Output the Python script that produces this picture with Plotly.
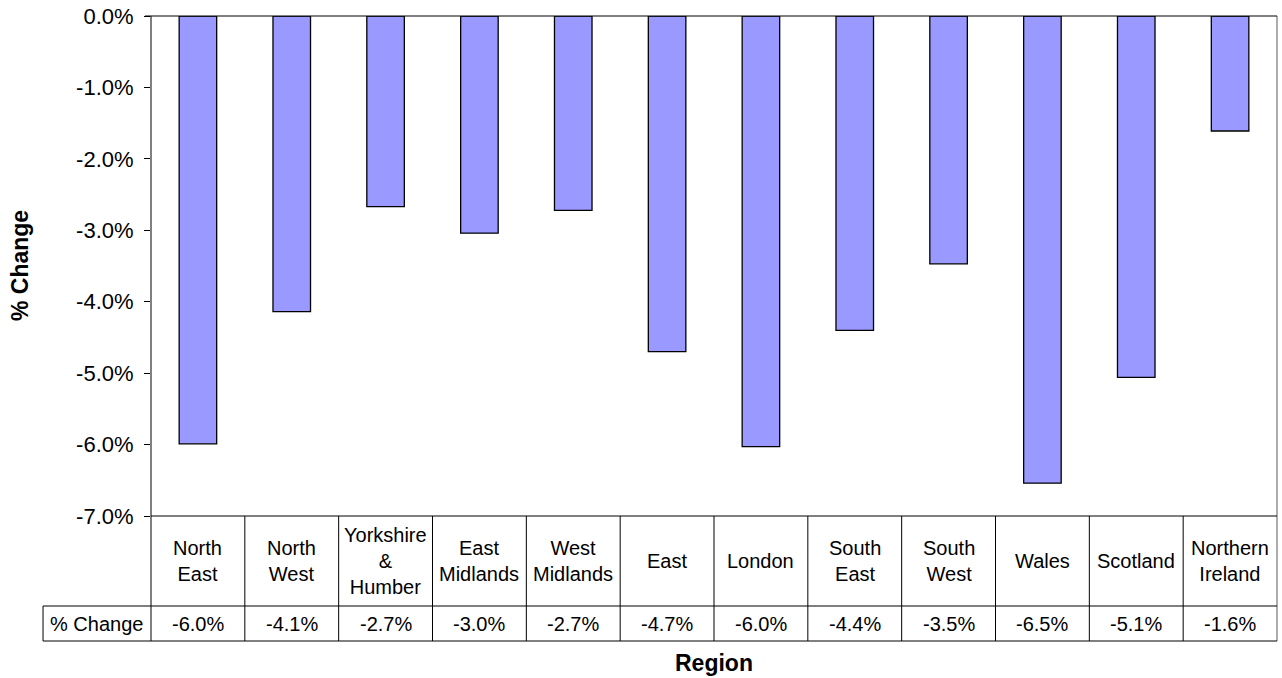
import plotly.graph_objects as go

regions = ["North East", "North West", "Yorkshire & Humber", "East Midlands", "West Midlands",
           "East", "London", "South East", "South West", "Wales", "Scotland", "Northern Ireland"]
region_labels = ["North<br>East", "North<br>West", "Yorkshire<br>&<br>Humber", "East<br>Midlands",
                 "West<br>Midlands", "East", "London", "South<br>East", "South<br>West", "Wales",
                 "Scotland", "Northern<br>Ireland"]
pct_change = [-5.99, -4.14, -2.67, -3.04, -2.72, -4.70, -6.03, -4.40, -3.47, -6.54, -5.06, -1.61]
y_ticks = [0, -1, -2, -3, -4, -5, -6, -7]

FONT = "Liberation Sans, Arial, sans-serif"
n = len(regions)

fig = go.Figure()
fig.add_trace(go.Bar(
    x=list(range(n)), y=[v / 100 for v in pct_change],
    marker=dict(color="#9999FF", line=dict(color="black", width=1.3)),
    width=0.4, hoverinfo="skip", showlegend=False,
))

shapes = []
line_k = dict(color="black", width=1)
# left axis line extended through table
shapes.append(dict(type="line", xref="paper", yref="paper", x0=0, x1=0, y0=1, y1=-0.25, line=line_k))
# right border (gray)
shapes.append(dict(type="line", xref="paper", yref="paper", x0=1, x1=1, y0=1, y1=-0.25,
                   line=dict(color="#808080", width=1.3)))
# top line
shapes.append(dict(type="line", xref="paper", yref="paper", x0=-0.0053, x1=1, y0=1, y1=1, line=line_k))
# table lines
shapes.append(dict(type="line", xref="paper", yref="paper", x0=0, x1=1, y0=0, y1=0, line=line_k))
shapes.append(dict(type="line", xref="paper", yref="paper", x0=-0.0959, x1=1, y0=-0.18, y1=-0.18, line=line_k))
shapes.append(dict(type="line", xref="paper", yref="paper", x0=-0.0959, x1=1, y0=-0.25, y1=-0.25, line=line_k))
shapes.append(dict(type="line", xref="paper", yref="paper", x0=-0.0959, x1=-0.0959, y0=-0.18, y1=-0.25, line=line_k))
for i in range(1, n):
    xp = i / n
    shapes.append(dict(type="line", xref="paper", yref="paper", x0=xp, x1=xp, y0=0, y1=-0.25, line=line_k))

annotations = []
for i, lab in enumerate(region_labels):
    annotations.append(dict(x=i, y=-0.09, xref="x", yref="paper", text=lab, showarrow=False,
                            xanchor="center", yanchor="middle",
                            font=dict(family=FONT, size=20, color="black")))
    annotations.append(dict(x=i, y=-0.215, xref="x", yref="paper", text=f"{pct_change[i]:.1f}%",
                            showarrow=False, xanchor="center", yanchor="middle",
                            font=dict(family=FONT, size=20, color="black")))
annotations.append(dict(x=-0.048, y=-0.215, xref="paper", yref="paper", text="% Change", showarrow=False,
                        xanchor="center", yanchor="middle", font=dict(family=FONT, size=20, color="black")))
annotations.append(dict(x=-0.1163, y=0.5, xref="paper", yref="paper", text="<b>% Change</b>", showarrow=False,
                        textangle=-90, xanchor="center", yanchor="middle",
                        font=dict(family=FONT, size=23, color="black")))
annotations.append(dict(x=0.5, y=-0.294, xref="paper", yref="paper", text="<b>Region</b>", showarrow=False,
                        xanchor="center", yanchor="middle", font=dict(family=FONT, size=23, color="black")))

fig.update_layout(
    width=1282, height=678,
    margin=dict(l=151, r=5, t=16, b=162),
    paper_bgcolor="white", plot_bgcolor="white",
    bargap=0.6,
    xaxis=dict(range=[-0.5, n - 0.5], showticklabels=False, showgrid=False, zeroline=False,
               showline=False, ticks=""),
    yaxis=dict(range=[-0.07, 0], tickvals=[t / 100 for t in y_ticks],
               ticktext=[f"{t:.1f}%" for t in y_ticks],
               ticks="outside", ticklen=6, tickcolor="black", tickwidth=1,
               showgrid=False, zeroline=False, showline=False, ticklabelstandoff=6,
               tickfont=dict(family=FONT, size=22, color="black")),
    shapes=shapes, annotations=annotations,
)

fig.write_html("out.html")
